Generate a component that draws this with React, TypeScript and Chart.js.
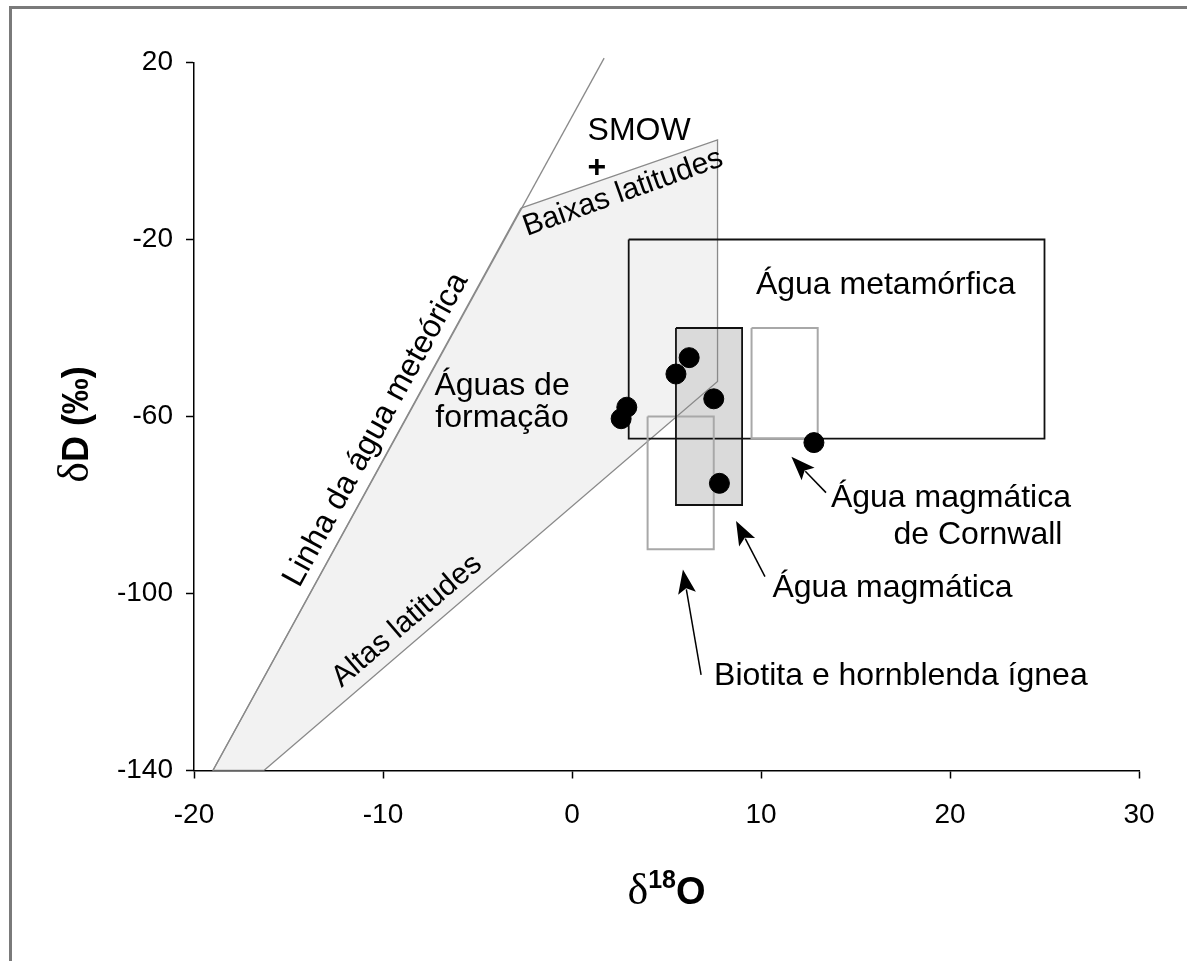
import { useEffect, useRef } from 'react';
import { Chart, registerables } from 'chart.js';

Chart.register(...registerables);

const xTicks = [-20, -10, 0, 10, 20, 30];
const yTicks = [-140, -100, -60, -20, 20];

const sampleX = [6.2, 5.5, 7.5, 2.9, 2.6, 7.8, 12.8];
const sampleY = [-46.7, -50.4, -56.0, -57.9, -60.5, -75.1, -65.9];

const meteoricX = [-19, 1.7];
const meteoricY = [-140, 21];

const formationX = [-2.7, 7.7, 7.7, -16.3, -19, -2.7];
const formationY = [-12.9, 2.5, -52.1, -140, -140, -12.9];

const metamorphicX = [3, 25, 25, 3, 3];
const metamorphicY = [-20, -20, -65, -65, -20];
const magmaticX = [5.5, 9, 9, 5.5, 5.5];
const magmaticY = [-40, -40, -80, -80, -40];
const cornwallX = [9.5, 13, 13, 9.5, 9.5];
const cornwallY = [-40, -40, -65, -65, -40];
const biotiteX = [4, 7.5, 7.5, 4, 4];
const biotiteY = [-60, -60, -90, -90, -60];

const labelTexts = ['SMOW', 'Água metamórfica', 'Águas de', 'formação', 'Água magmática', 'de Cornwall', 'Água magmática', 'Biotita e hornblenda ígnea'];
const labelX = [3.55, 16.6, -3.7, -3.7, 20.05, 21.48, 16.96, 17.4];
const labelY = [2.5, -32.3, -55.1, -62.3, -80.4, -88.8, -100.7, -120.7];

const plusX = [1.32];
const plusY = [-5.9];

const rotTexts = ['Baixas latitudes', 'Linha da água meteórica', 'Altas latitudes'];
const rotX = [2.7, -10.37, -8.73];
const rotY = [-9.45, -63.0, -106.2];
const rotDeg = [-19.7, -61.3, -40.6];

// arrows: tail -> tip
const arrowTailX = [13.44, 10.21, 6.83];
const arrowTailY = [-77.2, -96.2, -118.4];
const arrowTipX = [11.61, 8.68, 5.87];
const arrowTipY = [-69.1, -83.6, -94.6];

const SANS = '"Liberation Sans", Arial, sans-serif';
const SERIF = '"Liberation Serif", "Times New Roman", serif';

const pts = (xs: number[], ys: number[]) => xs.map((x, i) => ({ x, y: ys[i] }));

const annotPlugin = {
  id: 'annot',
  beforeDraw(chart: any) {
    const ctx = chart.ctx;
    ctx.save();
    ctx.fillStyle = '#fff';
    ctx.fillRect(0, 0, chart.width, chart.height);
    ctx.strokeStyle = '#7a7a7a';
    ctx.lineWidth = 3;
    ctx.strokeRect(10.5, 7.5, 3000, 3000);
    ctx.restore();
  },
  afterDatasetsDraw(chart: any) {
    const ctx = chart.ctx;
    const xs = chart.scales.x;
    const ys = chart.scales.y;
    ctx.save();
    ctx.fillStyle = '#000';
    ctx.font = `32px ${SANS}`;
    ctx.textAlign = 'center';
    ctx.textBaseline = 'alphabetic';
    labelTexts.forEach((t, i) => {
      ctx.fillText(t, xs.getPixelForValue(labelX[i]), ys.getPixelForValue(labelY[i]));
    });
    ctx.font = `bold 32px ${SANS}`;
    plusX.forEach((v, i) => ctx.fillText('+', xs.getPixelForValue(v), ys.getPixelForValue(plusY[i])));
    ctx.textBaseline = 'middle';
    rotTexts.forEach((t, i) => {
      ctx.save();
      ctx.translate(xs.getPixelForValue(rotX[i]), ys.getPixelForValue(rotY[i]));
      ctx.rotate((rotDeg[i] * Math.PI) / 180);
      ctx.font = `${i === 1 ? 32 : 30}px ${SANS}`;
      ctx.fillText(t, 0, 0);
      ctx.restore();
    });
    // arrows
    ctx.strokeStyle = '#000';
    ctx.lineWidth = 1.5;
    arrowTipX.forEach((_, i) => {
      const x0 = xs.getPixelForValue(arrowTailX[i]);
      const y0 = ys.getPixelForValue(arrowTailY[i]);
      const x1 = xs.getPixelForValue(arrowTipX[i]);
      const y1 = ys.getPixelForValue(arrowTipY[i]);
      const a = Math.atan2(y1 - y0, x1 - x0);
      const L = 24, W = 9;
      const bx = x1 - L * Math.cos(a), by = y1 - L * Math.sin(a);
      const nx = -Math.sin(a), ny = Math.cos(a);
      ctx.beginPath();
      ctx.moveTo(x0, y0);
      ctx.lineTo(bx + 4 * Math.cos(a), by + 4 * Math.sin(a));
      ctx.stroke();
      ctx.beginPath();
      ctx.moveTo(x1, y1);
      ctx.lineTo(bx + nx * W, by + ny * W);
      ctx.lineTo(bx + 5 * Math.cos(a), by + 5 * Math.sin(a));
      ctx.lineTo(bx - nx * W, by - ny * W);
      ctx.closePath();
      ctx.fill();
    });
    ctx.restore();
  },
  afterDraw(chart: any) {
    const ctx = chart.ctx;
    const area = chart.chartArea;
    ctx.save();
    ctx.fillStyle = '#000';
    ctx.textBaseline = 'alphabetic';
    ctx.textAlign = 'left';
    const drawParts = (p: [string, string, number][], cx: number, base: number) => {
      let total = 0;
      p.forEach(([t, f]) => { ctx.font = f; total += ctx.measureText(t).width; });
      let x = cx - total / 2;
      p.forEach(([t, f, dy]) => { ctx.font = f; ctx.fillText(t, x, base + dy); x += ctx.measureText(t).width; });
    };
    // x title
    drawParts([
      ['δ', `44px ${SERIF}`, 0],
      ['18', `bold 25px ${SANS}`, -16],
      ['O', `bold 38px ${SANS}`, 0],
    ], (area.left + area.right) / 2, area.bottom + 133);
    // y title
    ctx.save();
    ctx.translate(area.left - 119, (area.top + area.bottom) / 2 + 8);
    ctx.rotate(-Math.PI / 2);
    drawParts([
      ['δ', `44px ${SERIF}`, 0],
      ['D (‰)', `bold 36px ${SANS}`, 0],
    ], 0, 13);
    ctx.restore();
    ctx.restore();
  },
};

export default function App() {
  const ref = useRef<HTMLCanvasElement>(null);
  useEffect(() => {
    const canvas = ref.current;
    if (!canvas) return;
    const gray = '#8a8a8a';
    const chart = new Chart(canvas, {
      type: 'line',
      data: {
        datasets: [
          {
            label: 'amostras',
            data: pts(sampleX, sampleY),
            showLine: false,
            pointRadius: 10,
            pointBackgroundColor: '#000',
            pointBorderColor: '#000',
            pointBorderWidth: 1,
            order: 0,
          },
          {
            label: 'magmatica-outline',
            data: pts(magmaticX, magmaticY),
            borderColor: '#111',
            borderWidth: 1.8,
            pointRadius: 0,
            fill: false,
            order: 1,
          },
          {
            label: 'biotita',
            data: pts(biotiteX, biotiteY),
            borderColor: '#a8a8a8',
            borderWidth: 2,
            pointRadius: 0,
            fill: false,
            order: 2,
          },
          {
            label: 'cornwall',
            data: pts(cornwallX, cornwallY),
            borderColor: '#a8a8a8',
            borderWidth: 2,
            pointRadius: 0,
            fill: false,
            order: 3,
          },
          {
            label: 'metamorfica',
            data: pts(metamorphicX, metamorphicY),
            borderColor: '#111',
            borderWidth: 1.8,
            pointRadius: 0,
            fill: false,
            order: 4,
          },
          {
            label: 'formacao-outline',
            data: pts(formationX, formationY),
            borderColor: gray,
            borderWidth: 1.3,
            pointRadius: 0,
            fill: false,
            order: 5,
          },
          {
            label: 'meteorica',
            data: pts(meteoricX, meteoricY),
            borderColor: gray,
            borderWidth: 1.3,
            pointRadius: 0,
            fill: false,
            clip: false as any,
            order: 6,
          },
          {
            label: 'magmatica-fill',
            data: pts(magmaticX, magmaticY),
            borderWidth: 0,
            borderColor: 'rgba(0,0,0,0)',
            backgroundColor: '#dadada',
            pointRadius: 0,
            fill: 'shape' as any,
            order: 7,
          },
          {
            label: 'formacao-fill',
            data: pts(formationX, formationY),
            borderWidth: 0,
            borderColor: 'rgba(0,0,0,0)',
            backgroundColor: '#f2f2f2',
            pointRadius: 0,
            fill: 'shape' as any,
            order: 8,
          },
        ],
      },
      options: {
        animation: false,
        responsive: false,
        devicePixelRatio: 1,
        events: [],
        layout: { padding: { left: 0, right: 48, top: 62.5, bottom: 0 } },
        plugins: { legend: { display: false }, tooltip: { enabled: false }, title: { display: false } },
        elements: { line: { tension: 0 } },
        scales: {
          x: {
            type: 'linear',
            min: -20,
            max: 30,
            afterBuildTicks: (s: any) => { s.ticks = xTicks.map((v) => ({ value: v })); },
            afterFit: (s: any) => { s.height = 190.5; },
            grid: { drawOnChartArea: false, drawTicks: true, tickLength: 8, tickColor: '#000', tickWidth: 1.5 },
            border: { display: true, color: '#000', width: 1.5 },
            ticks: { color: '#000', font: { family: SANS, size: 28 }, padding: 20, maxRotation: 0, autoSkip: false },
          },
          y: {
            type: 'linear',
            min: -140,
            max: 20,
            afterBuildTicks: (s: any) => { s.ticks = yTicks.map((v) => ({ value: v })); },
            afterFit: (s: any) => { s.width = 194; },
            grid: { drawOnChartArea: false, drawTicks: true, tickLength: 8, tickColor: '#000', tickWidth: 1.5 },
            border: { display: true, color: '#000', width: 1.5 },
            ticks: { color: '#000', font: { family: SANS, size: 28 }, padding: 13, autoSkip: false },
          },
        },
      },
      plugins: [annotPlugin],
    } as any);
    return () => chart.destroy();
  }, []);
  return (
    <div style={{ position: 'fixed', left: 0, top: 0, width: 1187, height: 961, background: '#fff' }}>
      <canvas ref={ref} width={1187} height={961} style={{ display: 'block', width: 1187, height: 961 }} />
    </div>
  );
}
